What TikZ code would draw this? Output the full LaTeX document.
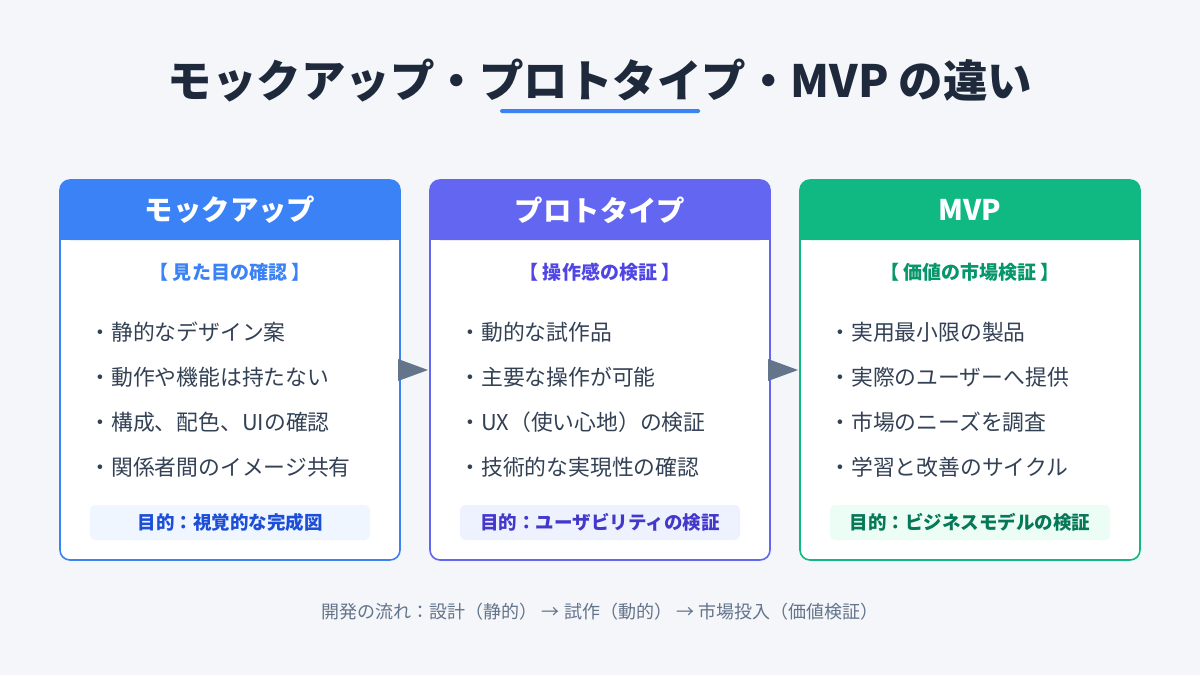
\documentclass[tikz,border=0pt]{standalone}
\usepackage{fontspec}
\setmainfont{Noto Sans CJK JP}
\usetikzlibrary{positioning}
\definecolor{bgc}{HTML}{F4F6FA}
\definecolor{navy}{HTML}{1E293B}
\definecolor{txt}{HTML}{334155}
\definecolor{cA}{HTML}{3B82F6}\definecolor{cB}{HTML}{6366F1}\definecolor{cC}{HTML}{10B981}
\definecolor{dA}{HTML}{1D4ED8}\definecolor{dB}{HTML}{4338CA}\definecolor{dC}{HTML}{047857}
\definecolor{lA}{HTML}{EFF6FF}\definecolor{lB}{HTML}{EEF2FF}\definecolor{lC}{HTML}{ECFDF5}
\definecolor{sB}{HTML}{4F46E5}\definecolor{sC}{HTML}{059669}
\definecolor{arr}{HTML}{64748B}
\tikzset{
 hdr/.style={text=white,font=\bfseries\fontsize{28.4}{32}\selectfont},
 sub/.style={font=\bfseries\fontsize{19}{23}\selectfont},
 bul/.style={anchor=west,text=txt,font=\fontsize{21.8}{26}\selectfont},
 pur/.style={font=\bfseries\fontsize{18.5}{22}\selectfont},
}
\newcommand{\card}[9]{%
 \fill[white,rounded corners=10pt] (#1,180) rectangle ++(340,380);
 \fill[#2,rounded corners=10pt] (#1,180) rectangle ++(340,60);
 \fill[#2] (#1,220) rectangle ++(340,20);
 \draw[#2,line width=1.6pt,rounded corners=10pt] (#1,180) rectangle ++(340,380);
 \node[hdr] (h#9) at (#1+170,210) {#3};
 \node[sub,text=#5] (s#9) at (#1+170,272) {#4};
 \fill[#6,rounded corners=5pt] (#1+30,505) rectangle ++(280,35);
 \node[pur,text=#7] (p#9) at (#1+170,522.5) {#8};
}
\begin{document}
\begin{tikzpicture}[x=1pt,y=-1pt]
\fill[bgc] (0,0) rectangle (1200,675);
\useasboundingbox (0,0) rectangle (1200,675);
\node[text=navy,font=\bfseries\fontsize{44.5}{52}\selectfont] (title) at (600,81) {モックアップ・プロトタイプ・MVP の違い};
\fill[cA,rounded corners=1.5pt] (500,109) rectangle (700,113);
\card{60}{cA}{モックアップ}{【 見た目の確認 】}{cA}{lA}{dA}{目的：視覚的な完成図}{a}
\card{430}{cB}{プロトタイプ}{【 操作感の検証 】}{sB}{lB}{dB}{目的：ユーザビリティの検証}{b}
\card{800}{cC}{MVP}{【 価値の市場検証 】}{sC}{lC}{dC}{目的：ビジネスモデルの検証}{c}
\foreach \t [count=\i] in {・静的なデザイン案,・動作や機能は持たない,・構成、配色、UIの確認,・関係者間のイメージ共有}
  \node[bul] (a\i) at (86,287+45*\i) {\t};
\foreach \t [count=\i] in {・動的な試作品,・主要な操作が可能,・UX（使い心地）の検証,・技術的な実現性の確認}
  \node[bul] (b\i) at (456,287+45*\i) {\t};
\foreach \t [count=\i] in {・実用最小限の製品,・実際のユーザーへ提供,・市場のニーズを調査,・学習と改善のサイクル}
  \node[bul] (c\i) at (826,287+45*\i) {\t};
\coordinate (r1) at (400,370); \coordinate (r2) at (770,370);
\fill[arr] (r1)++(-2,-11) -- ++(30,11) -- ++(-30,11) -- cycle;
\fill[arr] (r2)++(-2,-11) -- ++(30,11) -- ++(-30,11) -- cycle;
\node[text=arr,font=\fontsize{18}{22}\selectfont] (foot) at (600,612) {開発の流れ：設計（静的） → 試作（動的） → 市場投入（価値検証）};
\end{tikzpicture}
\end{document}
